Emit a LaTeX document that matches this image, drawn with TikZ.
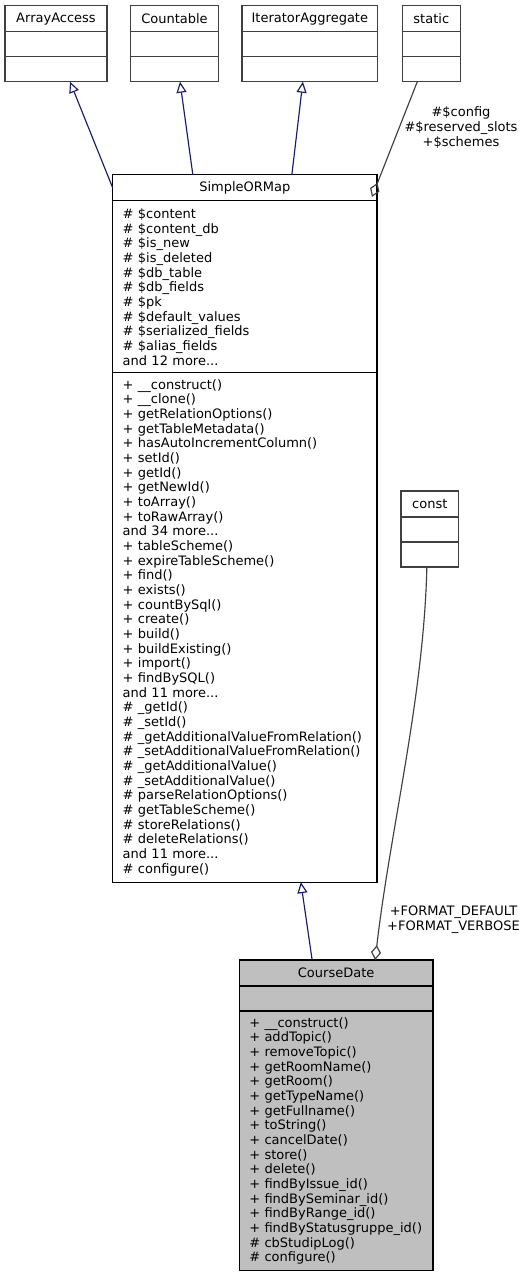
\documentclass[tikz,border=0pt]{standalone}
\usepackage{fontspec}
\setmainfont{DejaVu Sans}
\usetikzlibrary{arrows.meta, positioning, calc}

\definecolor{inherit}{HTML}{191970}
\definecolor{usage}{HTML}{404040}
\definecolor{focus}{HTML}{BFBFBF}

\begin{document}
\begin{tikzpicture}[
    x=1pt, y=-1pt,
    font=\fontsize{13}{14.67}\selectfont,
    line width=1.15pt,
    umlhead/.style={draw, fill=white, minimum height=26, inner sep=0pt, outer sep=0pt},
    umlpart/.style={draw, fill=white, minimum height=25, inner sep=0pt, outer sep=0pt},
    umlbody/.style={draw, fill=white, inner xsep=10, inner ysep=0pt, outer sep=0pt, align=left},
    extern/.style={draw=black!75},
    derive/.style={draw=inherit, -{Triangle[open, length=11pt, width=10pt]}},
    aggregate/.style={draw=usage, -{Diamond[open, length=15pt, width=10pt]}},
    role/.style={align=center, inner sep=0pt}
]
    \useasboundingbox (0,0) rectangle (529,1277);

    % Interfaces
    \node[umlhead, extern, minimum width=102] (arrayaccess) at (56,18.7) {ArrayAccess};
    \node[umlpart, extern, minimum width=102, below=0pt of arrayaccess] (arrayaccess-a) {};
    \node[umlpart, extern, minimum width=102, below=0pt of arrayaccess-a] (arrayaccess-m) {};

    \node[umlhead, extern, minimum width=87.6] (countable) at (174.5,18.7) {Countable};
    \node[umlpart, extern, minimum width=87.6, below=0pt of countable] (countable-a) {};
    \node[umlpart, extern, minimum width=87.6, below=0pt of countable-a] (countable-m) {};

    \node[umlhead, extern, minimum width=135.7] (iteratoraggregate) at (309.85,18.7) {IteratorAggregate};
    \node[umlpart, extern, minimum width=135.7, below=0pt of iteratoraggregate] (iteratoraggregate-a) {};
    \node[umlpart, extern, minimum width=135.7, below=0pt of iteratoraggregate-a] (iteratoraggregate-m) {};

    \node[umlhead, extern, minimum width=58] (static) at (431.3,18.7) {static};
    \node[umlpart, extern, minimum width=58, below=0pt of static] (static-a) {};
    \node[umlpart, extern, minimum width=58, below=0pt of static-a] (static-m) {};

    % Base class
    \node[umlhead, minimum width=264.3] (simpleormap) at (244.85,187.85) {SimpleORMap};
    \node[umlbody, text width=244.3, minimum height=172, below=0pt of simpleormap] (simpleormap-a) {%
        \# \$content\\
        \# \$content\_db\\
        \# \$is\_new\\
        \# \$is\_deleted\\
        \# \$db\_table\\
        \# \$db\_fields\\
        \# \$pk\\
        \# \$default\_values\\
        \# \$serialized\_fields\\
        \# \$alias\_fields\\
        and 12 more...};
    \node[umlbody, text width=244.3, minimum height=509.3, below=0pt of simpleormap-a] (simpleormap-m) {%
        + \_\_construct()\\
        + \_\_clone()\\
        + getRelationOptions()\\
        + getTableMetadata()\\
        + hasAutoIncrementColumn()\\
        + setId()\\
        + getId()\\
        + getNewId()\\
        + toArray()\\
        + toRawArray()\\
        and 34 more...\\
        + tableScheme()\\
        + expireTableScheme()\\
        + find()\\
        + exists()\\
        + countBySql()\\
        + create()\\
        + build()\\
        + buildExisting()\\
        + import()\\
        + findBySQL()\\
        and 11 more...\\
        \# \_getId()\\
        \# \_setId()\\
        \# \_getAdditionalValueFromRelation()\\
        \# \_setAdditionalValueFromRelation()\\
        \# \_getAdditionalValue()\\
        \# \_setAdditionalValue()\\
        \# parseRelationOptions()\\
        \# getTableScheme()\\
        \# storeRelations()\\
        \# deleteRelations()\\
        and 11 more...\\
        \# configure()};

    % Constants
    \node[umlhead, extern, minimum width=57.7] (const) at (429.85,504) {const};
    \node[umlpart, extern, minimum width=57.7, below=0pt of const] (const-a) {};
    \node[umlpart, extern, minimum width=57.7, below=0pt of const-a] (const-m) {};

    % Documented class
    \node[umlhead, fill=focus, minimum width=193.7] (coursedate) at (336.15,973) {CourseDate};
    \node[umlpart, fill=focus, minimum width=193.7, below=0pt of coursedate] (coursedate-a) {};
    \node[umlbody, fill=focus, text width=173.7, minimum height=259.7, below=0pt of coursedate-a] (coursedate-m) {%
        + \_\_construct()\\
        + addTopic()\\
        + removeTopic()\\
        + getRoomName()\\
        + getRoom()\\
        + getTypeName()\\
        + getFullname()\\
        + toString()\\
        + cancelDate()\\
        + store()\\
        + delete()\\
        + findByIssue\_id()\\
        + findBySeminar\_id()\\
        + findByRange\_id()\\
        + findByStatusgruppe\_id()\\
        \# cbStudipLog()\\
        \# configure()};

    % Inheritance
    \draw[derive] (simpleormap.west) -- ($(arrayaccess-m.south)+(14,0)$);
    \draw[derive] ($(simpleormap.north)+(-52,0)$) -- ($(countable-m.south)+(5.5,0)$);
    \draw[derive] ($(simpleormap.north)+(47,0)$) -- ($(iteratoraggregate-m.south)+(-7,0)$);
    \draw[derive] ($(coursedate.north)+(-24,0)$) -- ($(simpleormap-m.south)+(56,0)$);

    % Usage
    \draw[aggregate] ($(static-m.south)+(-14,0)$) -- ($(simpleormap.east)+(-5,9)$);
    \draw[aggregate] ($(const-m.south)+(-3,0)$) .. controls +(-3,130) and +(15,-130) .. ($(coursedate.north)+(39,0)$);

    % Labels
    \node[role] (static-role) at (461,127.5) {\#\$config\\\#\$reserved\_slots\\+\$schemes};
    \node[role] (const-role) at (453.5,920) {+FORMAT\_DEFAULT\\+FORMAT\_VERBOSE};

\end{tikzpicture}
\end{document}
